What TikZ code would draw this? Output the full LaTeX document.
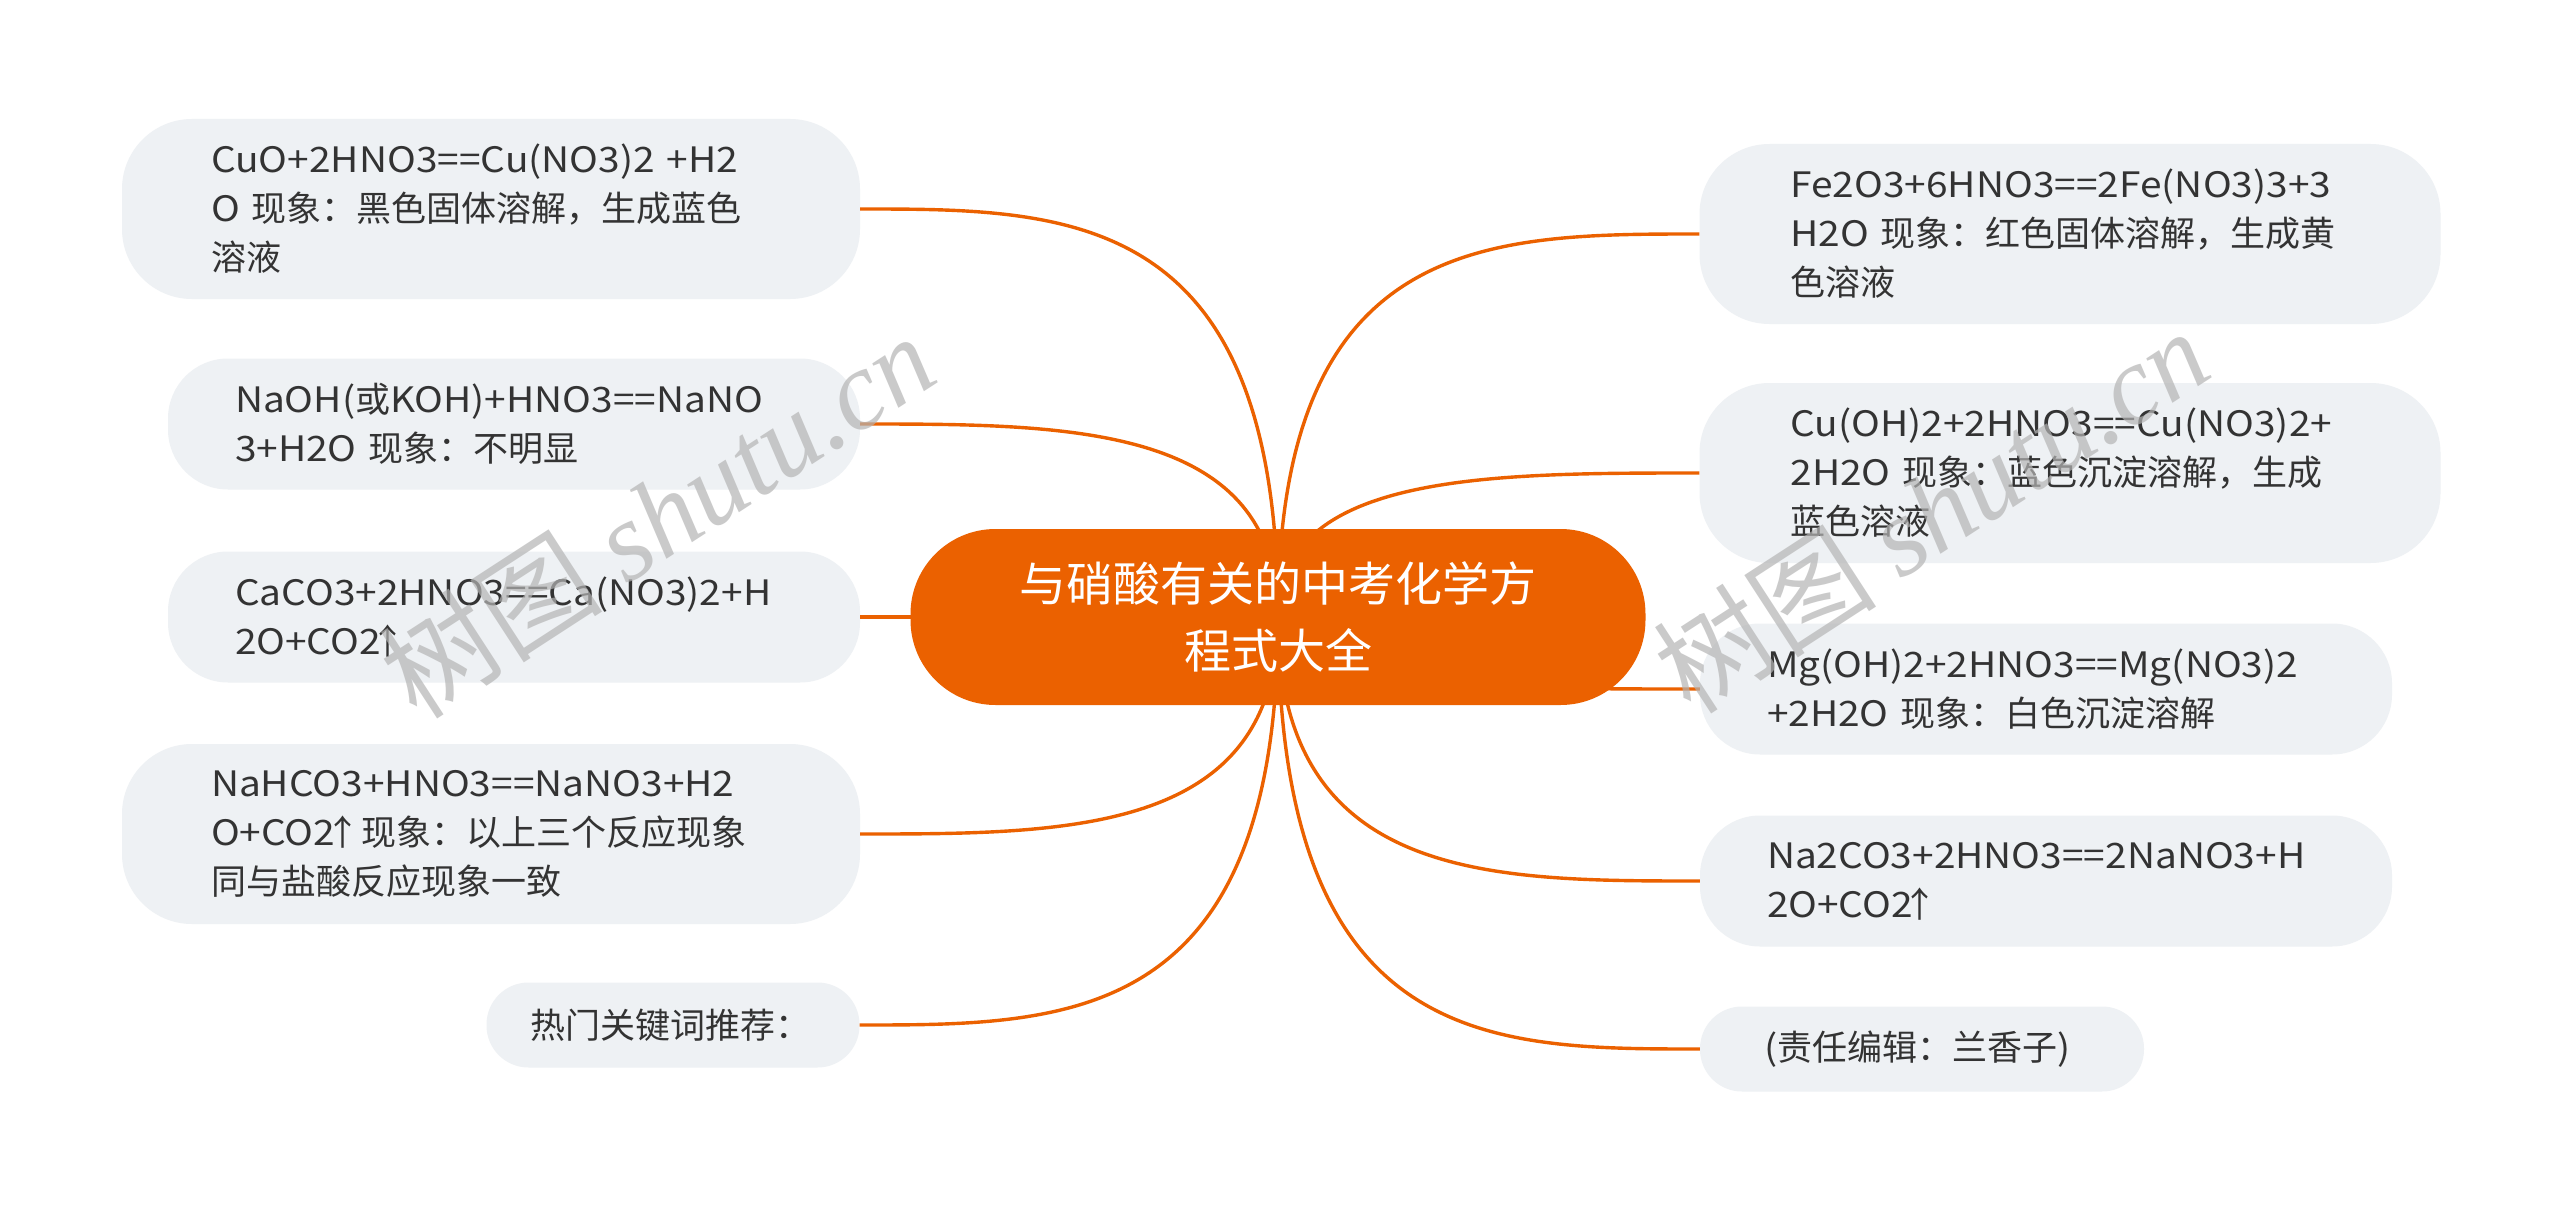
\documentclass[tikz,border=0pt]{standalone}
\usepackage{fontspec}
\setmainfont[FakeStretch=1.11]{Noto Sans CJK SC}
\newfontfamily\cjkfont{Noto Sans CJK SC}
\newfontfamily\wmserif{Liberation Serif}
\newcommand\zw[1]{{\cjkfont #1}}
\newcommand\uparr{\makebox[0.42em][c]{\cjkfont ↑}}
\usetikzlibrary{calc}
\definecolor{brorange}{HTML}{EB6100}
\definecolor{boxfill}{HTML}{EEF1F4}
\definecolor{txt}{HTML}{333333}
\definecolor{wmgray}{HTML}{B4B4B4}
\begin{document}
\begin{tikzpicture}[x=1pt,y=-1pt,
  leaf/.style={fill=boxfill, text=txt, align=left, inner ysep=0pt,
    font=\fontsize{35}{49}\selectfont},
  tall/.style={leaf, minimum height=180pt, rounded corners=70pt},
  mid/.style={leaf, minimum height=131pt, rounded corners=60pt},
  low/.style={leaf, minimum height=85pt, rounded corners=42pt},
  padbox/.style 2 args={inner xsep=#1pt, text width=#2pt},
  root/.style={fill=brorange, text=white, align=center, inner sep=0pt,
    minimum width=735pt, minimum height=176pt, rounded corners=85pt,
    font=\cjkfont\fontsize{47}{67}\selectfont},
  link/.style={draw=brorange, line width=3.4pt},
  wm/.style={text=wmgray, opacity=0.7, rotate=33, font=\cjkfont\fontsize{112}{112}\selectfont}]
\useasboundingbox (0,0) rectangle (2560,1212);
\fill[white] (0,0) rectangle (2560,1212);

% leaves, left
\node[tall, padbox={89}{560}] (L1) at (491,209)
  {CuO+2HNO3==Cu(NO3)2~+H2\\O~\zw{现象：黑色固体溶解，生成蓝色}\\\zw{溶液}};
\node[mid, padbox={67}{558}] (L2) at (514,424)
  {NaOH(\zw{或}KOH)+HNO3==NaNO\\3+H2O~\zw{现象：不明显}};
\node[mid, padbox={67}{558}] (L3) at (514,617)
  {CaCO3+2HNO3==Ca(NO3)2+H\\2O+CO2\uparr};
\node[tall, padbox={89}{560}] (L4) at (491,834)
  {NaHCO3+HNO3==NaNO3+H2\\O+CO2\uparr~\zw{现象：以上三个反应现象}\\\zw{同与盐酸反应现象一致}};
\node[low, padbox={44}{285}] (L5) at (673,1025)
  {\zw{热门关键词推荐：}};

% leaves, right
\node[tall, padbox={91}{559}] (R1) at (2070,234)
  {Fe2O3+6HNO3==2Fe(NO3)3+3\\H2O~\zw{现象：红色固体溶解，生成黄}\\\zw{色溶液}};
\node[tall, padbox={91}{559}] (R2) at (2070,473)
  {Cu(OH)2+2HNO3==Cu(NO3)2+\\2H2O~\zw{现象：蓝色沉淀溶解，生成}\\\zw{蓝色溶液}};
\node[mid, padbox={67}{558}] (R3) at (2046,689)
  {Mg(OH)2+2HNO3==Mg(NO3)2\\+2H2O~\zw{现象：白色沉淀溶解}};
\node[mid, padbox={67}{558}] (R4) at (2046,881)
  {Na2CO3+2HNO3==2NaNO3+H\\2O+CO2\uparr};
\node[low, padbox={64}{316}] (R5) at (1922,1049)
  {(\zw{责任编辑：兰香子})};

% root position (drawn later on top)
\coordinate (rc) at (1278,617);

% connectors
\foreach \n/\a in {L1/east,L2/east,L3/east,L4/east,L5/east,
                   R1/west,R2/west,R3/west,R4/west,R5/west}
  \draw[link] (rc) .. controls (rc |- \n.\a) and ($(rc |- \n.\a)!0.5!(\n.\a)$) .. (\n.\a);

\node[root] (root) at (rc) {与硝酸有关的中考化学方\\程式大全};

% watermark
\node[wm] (wm1) at (657,515) {树图 {\wmserif\itshape shutu.cn}};
\node[wm] (wm2) at (1931,510) {树图 {\wmserif\itshape shutu.cn}};
\end{tikzpicture}
\end{document}
